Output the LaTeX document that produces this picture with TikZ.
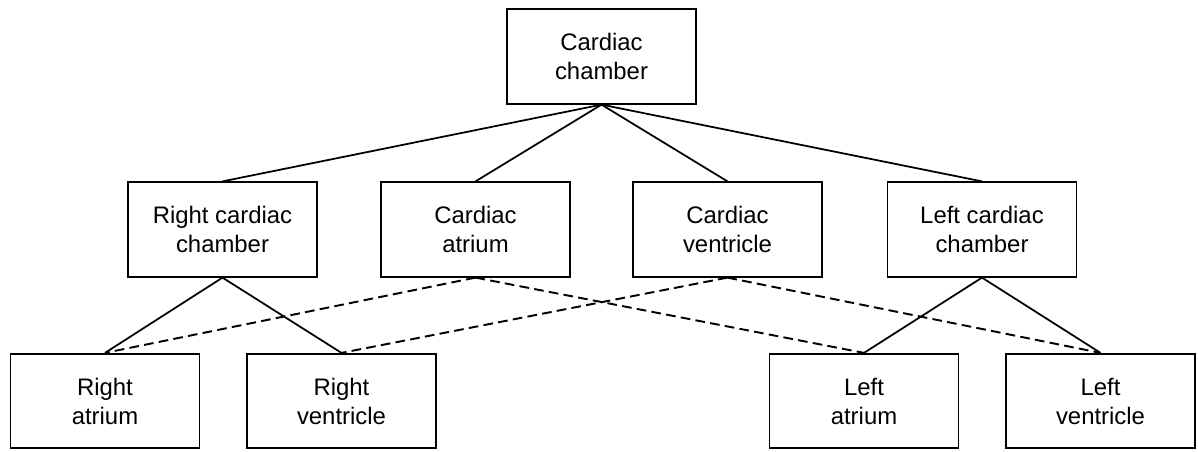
\documentclass[tikz,border=0pt]{standalone}
\usepackage{fontspec}
\setmainfont{Liberation Sans}
\begin{document}
\begin{tikzpicture}[x=0.02cm,y=-0.02cm,
  box/.style={draw, line width=1pt, minimum width=3.78cm, minimum height=1.89cm,
    align=center, inner sep=0pt, font=\fontsize{13.6}{16.5}\selectfont},
  link/.style={line width=1pt},
  cross/.style={line width=1.1pt, dash pattern=on 5.5pt off 3pt}]
\useasboundingbox (0,0) rectangle (1198,451);
% top
\node[box] (chamber) at (601.5,56.5) {Cardiac\\chamber};
% middle row
\node[box] (rchamber) at (222.5,229.5) {Right cardiac\\chamber};
\node[box] (atrium) at (475.5,229.5) {Cardiac\\atrium};
\node[box] (ventricle) at (727.5,229.5) {Cardiac\\ventricle};
\node[box] (lchamber) at (982,229.5) {Left cardiac\\chamber};
% bottom row
\node[box] (ratrium) at (105,401) {Right\\atrium};
\node[box] (rventricle) at (341.5,401) {Right\\ventricle};
\node[box] (latrium) at (864,401) {Left\\atrium};
\node[box] (lventricle) at (1100.5,401) {Left\\ventricle};
% solid links
\foreach \m in {rchamber,atrium,ventricle,lchamber}
  \draw[link] (chamber.south) -- (\m.north);
\foreach \a/\b in {rchamber/ratrium,rchamber/rventricle,lchamber/latrium,lchamber/lventricle}
  \draw[link] (\a.south) -- (\b.north);
% dashed links
\foreach \a/\b in {atrium/ratrium,atrium/latrium,ventricle/rventricle,ventricle/lventricle}
  \draw[cross] (\a.south) -- (\b.north);
\end{tikzpicture}
\end{document}
